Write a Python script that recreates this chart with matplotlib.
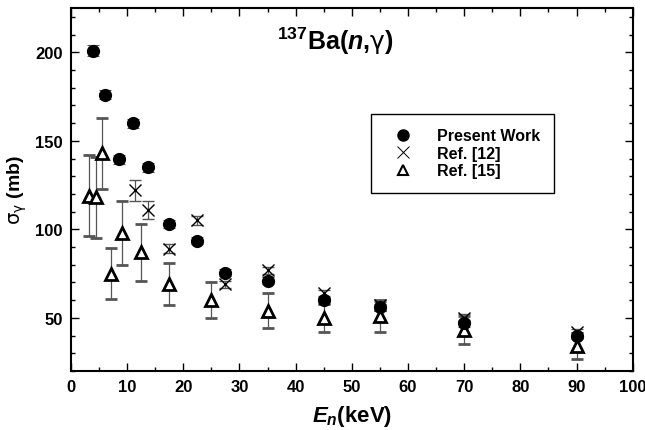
import matplotlib
matplotlib.use("Agg")
import matplotlib.pyplot as plt
from matplotlib.ticker import MultipleLocator

plt.rcParams["font.family"] = ["Liberation Sans", "DejaVu Sans"]
plt.rcParams["mathtext.fontset"] = "custom"
plt.rcParams["mathtext.rm"] = "Liberation Sans:bold"
plt.rcParams["mathtext.it"] = "Liberation Sans:bold:italic"
plt.rcParams["mathtext.bf"] = "Liberation Sans:bold"
plt.rcParams["mathtext.sf"] = "DejaVu Sans"

# Present work
pw_x = [4, 6, 8.6, 11, 13.7, 17.5, 22.5, 27.5, 35, 45, 55, 70, 90]
pw_y = [201, 176, 139.5, 160, 135, 103, 93.5, 75.5, 71, 60, 56, 47, 40]
pw_err = [3, 2.5, 2.5, 2.5, 2.5, 2, 2, 2, 2, 2, 2, 2, 2]

# Ref. [12]
r12_x = [11.4, 13.7, 17.5, 22.5, 27.5, 35, 45, 55, 70, 90]
r12_y = [122, 111, 89, 105, 69, 77, 64, 57, 50, 42]
r12_err = [6, 5, 2.5, 2.5, 2, 2, 1.5, 2, 2, 1.5]

# Ref. [15]
r15_x = [3.2, 4.4, 5.6, 7.1, 9.1, 12.5, 17.5, 25, 35, 45, 55, 70, 90]
r15_y = [119, 118, 143, 75, 98, 87, 69, 60, 54, 50, 51, 43, 34]
r15_err = [23, 23, 20, 14.5, 18, 16, 12, 10, 10, 8, 9, 8, 7.5]

fig = plt.figure(figsize=(6.45, 4.31), dpi=100)
ax = fig.add_axes([0.110, 0.137, 0.871, 0.842])

ekw = dict(ecolor="#555555", elinewidth=0.9, capsize=4, capthick=0.8, linestyle="none")
ax.errorbar(r15_x, r15_y, yerr=r15_err, marker="^", ms=9, mfc="white", mec="black",
            mew=2, zorder=2, **ekw)
ax.errorbar(r12_x, r12_y, yerr=r12_err, marker="x", ms=8, mec="black", mew=1.0,
            zorder=3, **ekw)
ax.errorbar(pw_x, pw_y, yerr=pw_err, marker="o", ms=8.5, mfc="black", mec="black",
            zorder=4, **ekw)

ax.set_xlim(0, 100)
ax.set_ylim(20, 225)
ax.xaxis.set_major_locator(MultipleLocator(10))
ax.xaxis.set_minor_locator(MultipleLocator(5))
ax.yaxis.set_major_locator(MultipleLocator(50))
ax.yaxis.set_minor_locator(MultipleLocator(10))
ax.tick_params(which="both", direction="in", top=True, right=True, width=1)
ax.tick_params(which="major", length=6, labelsize=12, pad=6)
ax.tick_params(which="minor", length=3)
for lab in ax.get_xticklabels() + ax.get_yticklabels():
    lab.set_fontweight("bold")
for s in ax.spines.values():
    s.set_linewidth(1.5)

ax.set_xlabel(r"$E_n$(keV)", fontsize=16, fontweight="bold", labelpad=6)
ax.set_ylabel(r"$\mathsf{\sigma}_\mathsf{\gamma}$ (mb)", fontsize=14,
              fontweight="bold", labelpad=4)

ax.text(47, 207, r"$^{137}$Ba($n$,$\mathsf{\gamma}$)", fontsize=18, fontweight="bold",
        ha="center", va="center")

h1, = ax.plot([], [], "o", color="black", ms=8)
h2, = ax.plot([], [], "x", color="black", ms=9, mew=0.7)
h3, = ax.plot([], [], "^", mfc="white", mec="black", ms=7.5, mew=1.5)
leg = ax.legend([h1, h2, h3], ["Present Work", "Ref. [12]", "Ref. [15]"],
                loc="upper left", bbox_to_anchor=(0.52, 0.73), fancybox=False,
                edgecolor="black", framealpha=1, prop=dict(weight="bold", size=11.5),
                handletextpad=1.0, labelspacing=0.15, borderpad=0.9, handlelength=2.2)
leg.get_frame().set_linewidth(1)

fig.savefig("out.png", dpi=100)
